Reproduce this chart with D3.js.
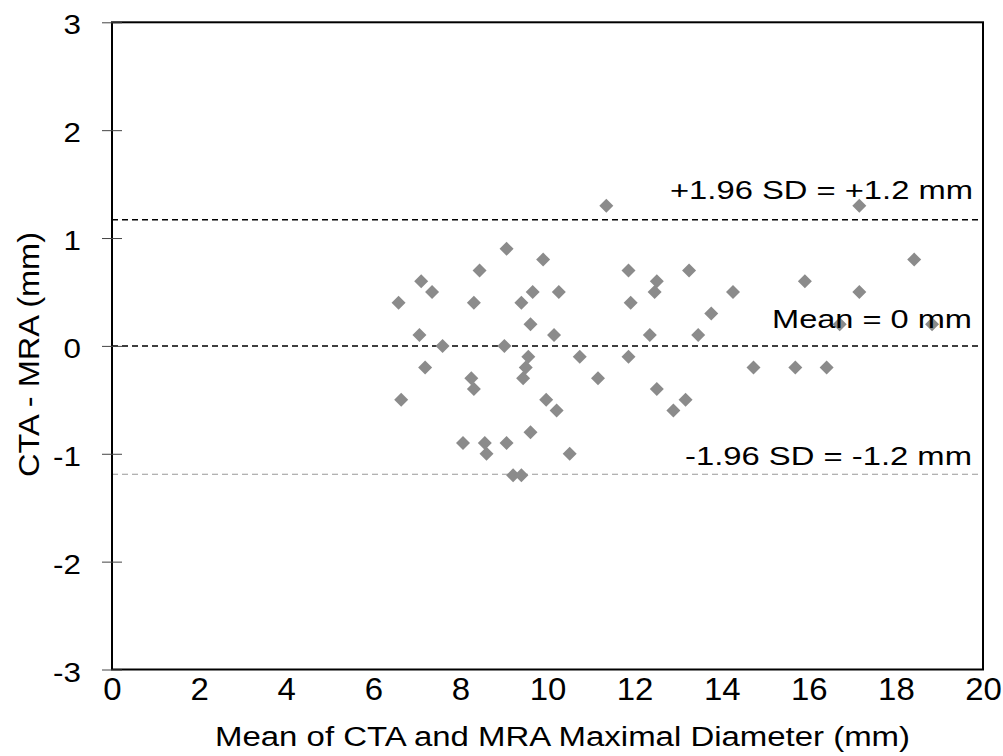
<!DOCTYPE html>
<html><head><meta charset="utf-8">
<script src="https://cdn.jsdelivr.net/npm/d3@7"></script>
<style>
body{margin:0;background:#fff}
text{font-family:"Liberation Sans",Arial,sans-serif;fill:#000}
</style>
</head><body>
<svg id="chart" width="1003" height="756"></svg>
<script>
// ---- data ----
const meanDiameter = [6.58,6.64,7.10,7.35,7.06,7.19,7.59,8.31,8.44,8.25,8.31,8.06,8.56,8.60,9.06,9.01,9.06,9.21,9.40,9.40,9.66,9.61,9.56,9.50,9.44,9.61,9.90,9.97,10.15,10.26,10.21,10.51,10.74,11.16,11.35,11.86,11.91,11.86,12.35,12.51,12.46,12.51,12.89,13.17,13.25,13.46,13.76,14.26,14.73,15.69,15.91,16.41,16.71,17.16,17.16,18.42,18.83];
const difference   = [0.4,-0.5,0.6,0.5,0.1,-0.2,0.0,0.4,0.7,-0.3,-0.4,-0.9,-0.9,-1.0,0.9,0.0,-0.9,-1.2,-1.2,0.4,0.5,0.2,-0.1,-0.2,-0.3,-0.8,0.8,-0.5,0.1,0.5,-0.6,-1.0,-0.1,-0.3,1.3,0.7,0.4,-0.1,0.1,0.6,0.5,-0.4,-0.6,-0.5,0.7,0.1,0.3,0.5,-0.2,-0.2,0.6,-0.2,0.2,1.3,0.5,0.8,0.2];
const xTicks = [0,2,4,6,8,10,12,14,16,18,20];
const yTicks = [-3,-2,-1,0,1,2,3];
const refValues = [1.17, 0, -1.19];
const refLabels = ["+1.96 SD = +1.2 mm", "Mean = 0 mm", "-1.96 SD = -1.2 mm"];
const xTitle = "Mean of CTA and MRA Maximal Diameter (mm)";
const yTitle = "CTA - MRA (mm)";

// ---- layout / style ----
const L = 112, R = 983, T = 22.3, B = 669.5;
const refStyles = [
  {stroke:"#000", width:1.5, labelX:670, labelDy:-21, labelLen:303},
  {stroke:"#000", width:1.5, labelX:772, labelDy:-17.5, labelLen:200},
  {stroke:"#999", width:1.2, labelX:685, labelDy:-9, labelLen:287}
];

const svg = d3.select("#chart");
const x = d3.scaleLinear().domain([0,20]).range([L,R]);
const y = d3.scaleLinear().domain([-3,3]).range([B,T]);
const fmt = d => String(d);

// reference lines
refValues.forEach((v,i)=>{
  const s = refStyles[i];
  svg.append("line")
    .attr("x1",L).attr("x2",R).attr("y1",y(v)).attr("y2",y(v))
    .attr("stroke",s.stroke).attr("stroke-width",s.width)
    .attr("stroke-dasharray","6,4");
});

// points
const diamond = d3.symbol(d3.symbolSquare, 98);
svg.append("g").selectAll("path")
  .data(meanDiameter.map((m,i)=>[m,difference[i]]))
  .join("path")
  .attr("d", diamond)
  .attr("transform", d=>`translate(${x(d[0])},${y(d[1])}) rotate(45)`)
  .attr("fill","#8b8b8b");

// reference labels
refValues.forEach((v,i)=>{
  const s = refStyles[i];
  svg.append("text")
    .attr("x", s.labelX).attr("y", y(v)+s.labelDy)
    .attr("font-size", 26)
    .attr("textLength", s.labelLen).attr("lengthAdjust","spacingAndGlyphs")
    .text(refLabels[i]);
});

// frame
svg.append("rect").attr("x",L).attr("y",T).attr("width",R-L).attr("height",B-T)
  .attr("fill","none").attr("stroke","#000").attr("stroke-width",2);

// y axis
const gy = svg.append("g").attr("transform",`translate(${L},0)`)
  .call(d3.axisLeft(y).tickValues(yTicks).tickSize(10).tickFormat(fmt));
gy.select(".domain").remove();
gy.selectAll(".tick line").attr("x1",10).attr("stroke","#444").attr("stroke-width",1);
gy.selectAll(".tick text")
  .attr("x",null).attr("dy",null)
  .attr("font-size",28).attr("font-family","Liberation Sans, Arial, sans-serif")
  .attr("text-anchor","end")
  .attr("transform","translate(-31,11.5) scale(1.12,1)");

// x axis
const gx = svg.append("g").attr("transform",`translate(0,${B})`)
  .call(d3.axisBottom(x).tickValues(xTicks).tickSize(0).tickFormat(fmt));
gx.select(".domain").remove();
gx.selectAll(".tick text")
  .attr("y",null).attr("dy",null)
  .attr("font-size",30.5).attr("font-family","Liberation Sans, Arial, sans-serif")
  .attr("text-anchor","middle")
  .attr("transform","translate(0,30) scale(1.08,1)");

// titles
svg.append("text").attr("x",215).attr("y",746)
  .attr("font-size",27).attr("textLength",695).attr("lengthAdjust","spacingAndGlyphs")
  .text(xTitle);
svg.append("text")
  .attr("transform","translate(39,354.5) rotate(-90)")
  .attr("text-anchor","middle")
  .attr("font-size",30).attr("textLength",245).attr("lengthAdjust","spacingAndGlyphs")
  .text(yTitle);
</script>
</body></html>
